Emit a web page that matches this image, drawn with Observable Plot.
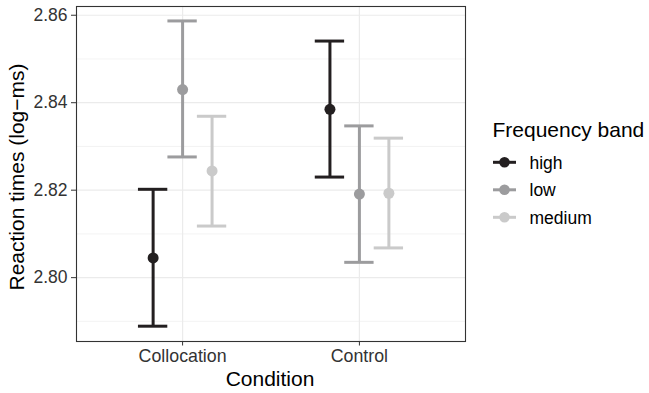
<!DOCTYPE html>
<html><head><meta charset="utf-8">
<script src="https://cdn.jsdelivr.net/npm/d3@7"></script>
<script src="https://cdn.jsdelivr.net/npm/@observablehq/plot@0.6"></script>
<style>body{margin:0;background:#fff;} #chart{position:relative;width:649px;height:393px;}</style>
</head><body><div id="chart"></div>
<script>
const conditions = ["Collocation", "Control"];
const bands = ["high", "low", "medium"];
const bandColors = ["#231f20", "#9c9c9e", "#cacaca"];
const condition = ["Collocation", "Collocation", "Collocation", "Control", "Control", "Control"];
const band = ["high", "low", "medium", "high", "low", "medium"];
const meanRT = [2.8045, 2.8430, 2.8244, 2.8385, 2.8191, 2.8193];
const lowerRT = [2.7889, 2.8276, 2.8118, 2.8230, 2.8035, 2.8068];
const upperRT = [2.8202, 2.8587, 2.8369, 2.8541, 2.8347, 2.8319];
const yTicks = [2.80, 2.82, 2.84, 2.86];
const yMinor = [2.79, 2.81, 2.83, 2.85];

const FONT = '"Liberation Sans", Arial, Helvetica, sans-serif';
const dodge = 0.5 / 3;     // position_dodge(width = 0.5)
const cap = 0.083;         // half width of error-bar caps

const rows = condition.map((c, i) => ({
  condition: c,
  band: band[i],
  mean: meanRT[i],
  lower: lowerRT[i],
  upper: upperRT[i],
  x: conditions.indexOf(c) + 1 + (bands.indexOf(band[i]) - 1) * dodge
}));

const W = 3;
const plot = Plot.plot({
  width: 649,
  height: 393,
  marginLeft: 76,
  marginRight: 184,
  marginTop: 6,
  marginBottom: 52,
  style: {fontFamily: FONT, background: "#fff"},
  x: {type: "linear", domain: [0.4, 2.6], axis: null},
  y: {domain: [2.7854, 2.862], axis: null},
  color: {domain: bands, range: bandColors},
  marks: [
    Plot.gridY(yMinor, {stroke: "#ebebeb", strokeOpacity: 1, strokeWidth: 0.6}),
    Plot.gridY(yTicks, {stroke: "#ebebeb", strokeOpacity: 1, strokeWidth: 1.2}),
    Plot.gridX([1, 2], {stroke: "#ebebeb", strokeOpacity: 1, strokeWidth: 1.2}),
    Plot.ruleX(rows, {x: "x", y1: "lower", y2: "upper", stroke: "band", strokeWidth: W}),
    Plot.ruleY(rows, {y: "lower", x1: d => d.x - cap, x2: d => d.x + cap, stroke: "band", strokeWidth: W}),
    Plot.ruleY(rows, {y: "upper", x1: d => d.x - cap, x2: d => d.x + cap, stroke: "band", strokeWidth: W}),
    Plot.dot(rows, {x: "x", y: "mean", fill: "band", r: 5.5}),
    Plot.frame({stroke: "#333", strokeWidth: 1.1}),
    Plot.axisY(yTicks, {tickSize: 5, tickPadding: 4, fontSize: 17.5, color: "#333",
      tickFormat: d3.format(".2f"), label: null}),
    Plot.axisX([1, 2], {tickSize: 4.5, tickPadding: 3, fontSize: 17.8, color: "#333",
      tickFormat: i => conditions[i - 1], label: null})
  ]
});
document.getElementById("chart").appendChild(plot);

const svg = d3.select(plot);
// axis titles
svg.append("text")
  .attr("x", 270).attr("y", 386)
  .attr("text-anchor", "middle")
  .attr("font-family", FONT).attr("font-size", 21).attr("fill", "#000")
  .text("Condition");
svg.append("text")
  .attr("transform", "translate(24,177) rotate(-90)")
  .attr("text-anchor", "middle")
  .attr("font-family", FONT).attr("font-size", 21).attr("fill", "#000")
  .text("Reaction times (log\u2212ms)");

// legend
const lg = svg.append("g").attr("text-anchor", "start");
lg.append("text")
  .attr("x", 492.5).attr("y", 136.5)
  .attr("text-anchor", "start")
  .attr("font-family", FONT).attr("font-size", 21).attr("fill", "#000")
  .text("Frequency band");
bands.forEach((b, i) => {
  const cy = 162.3 + i * 27.5;
  lg.append("line").attr("x1", 493).attr("x2", 516).attr("y1", cy).attr("y2", cy)
    .attr("stroke", bandColors[i]).attr("stroke-width", W);
  lg.append("circle").attr("cx", 504.5).attr("cy", cy).attr("r", 5.3).attr("fill", bandColors[i]);
  lg.append("text").attr("x", 529.5).attr("y", cy + 6.3)
    .attr("text-anchor", "start")
    .attr("font-family", FONT).attr("font-size", 17.5).attr("fill", "#000")
    .text(b);
});
</script>
</body></html>
